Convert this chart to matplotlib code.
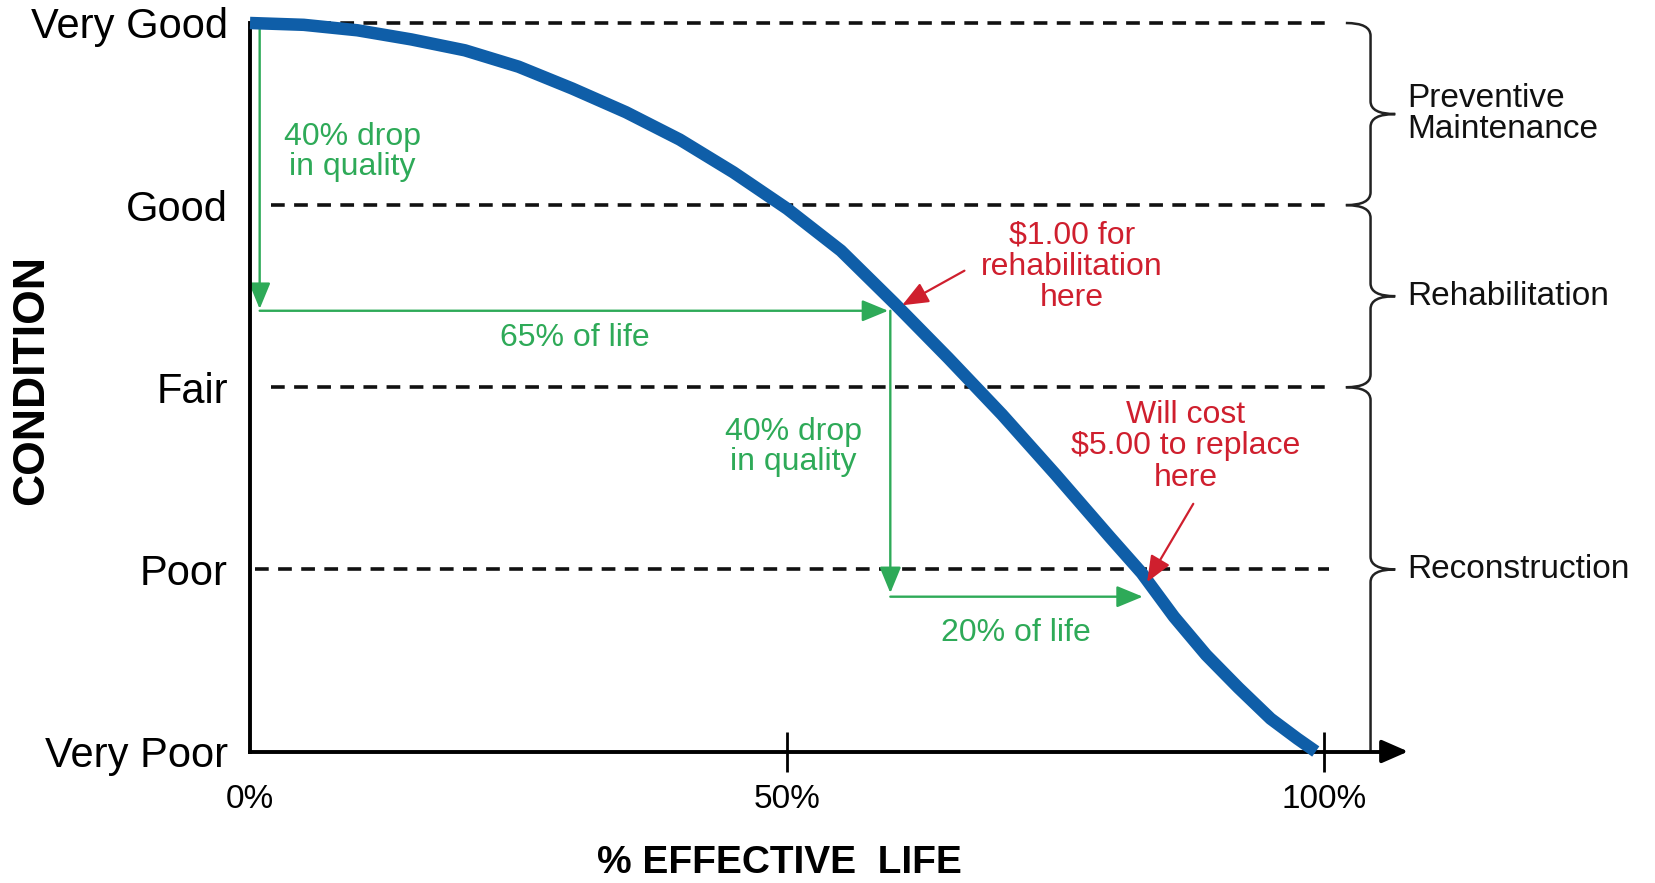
import matplotlib.pyplot as plt
from matplotlib.path import Path
from matplotlib.patches import PathPatch

plt.rcParams['font.family'] = ['Liberation Sans', 'DejaVu Sans']

# condition scale and the deterioration curve
conditions = ['Very Poor', 'Poor', 'Fair', 'Good', 'Very Good']
levels = [0, 1, 2, 3, 4]
life_pct = [0, 5, 10, 15, 20, 25, 30, 35, 40, 45, 50, 55, 60, 65, 70, 75, 80,
            83, 86, 89, 92, 95, 97.5, 99.2]
condition_val = [4.0, 3.99, 3.96, 3.91, 3.85, 3.76, 3.64, 3.51, 3.36, 3.18, 2.98, 2.75,
                 2.46, 2.16, 1.85, 1.52, 1.18, 0.98, 0.74, 0.53, 0.35, 0.18, 0.07, 0.0]
x_ticks = [0, 50, 100]
x_ticklabels = ['0%', '50%', '100%']

# green measuring arrows (x start, y start, x end, y end) and their labels
green_arrows = [(0.9, 4.0, 0.9, 2.43), (0.9, 2.42, 59.4, 2.42),
                (59.6, 2.42, 59.6, 0.87), (59.6, 0.85, 83.1, 0.85)]
green_labels = ['40% drop\nin quality', '65% of life', '40% drop\nin quality', '20% of life']
green_xy = [(9.5, 3.29), (30.2, 2.27), (50.6, 1.67), (71.3, 0.65)]

# red cost notes
red_labels = ['$1.00 for\nrehabilitation\nhere', 'Will cost\n$5.00 to replace\nhere']
red_xy = [(76.5, 2.66), (87.1, 1.675)]
red_arrows = [(66.5, 2.64, 60.7, 2.45), (87.8, 1.36, 83.5, 0.93)]

# treatment brackets on the right: (top, bottom, tip)
bracket_spans = [(4, 3, 3.5), (3, 2, 2.5), (2, 0, 1.0)]
bracket_labels = ['Preventive\nMaintenance', 'Rehabilitation', 'Reconstruction']

BLUE = '#0f5ea8'
GREEN = '#2eaa58'
RED = '#cf1f2e'


def brace(y_top, y_bot, y_tip, x0=104.3, x_hook=102.0, x_tip=106.6, r=0.07, hook_bottom=True):
    verts = [(x_hook, y_top), (x0, y_top), (x0, y_top - r),
             (x0, y_tip + r), (x0, y_tip), (x_tip, y_tip),
             (x0, y_tip), (x0, y_tip - r)]
    codes = [Path.MOVETO, Path.CURVE3, Path.CURVE3, Path.LINETO,
             Path.CURVE3, Path.CURVE3, Path.CURVE3, Path.CURVE3]
    if hook_bottom:
        verts += [(x0, y_bot + r), (x0, y_bot), (x_hook, y_bot)]
        codes += [Path.LINETO, Path.CURVE3, Path.CURVE3]
    else:
        verts += [(x0, y_bot)]
        codes += [Path.LINETO]
    return Path(verts, codes)


fig = plt.figure(figsize=(16.55, 8.83), dpi=100)
ax = fig.add_axes([250 / 1655, 131.5 / 883, 1156 / 1655, 728.5 / 883])
ax.set_xlim(0, 107.6)
ax.set_ylim(0, 4)

for side in ['top', 'right']:
    ax.spines[side].set_visible(False)
ax.spines['left'].set_linewidth(2.8)
ax.spines['bottom'].set_linewidth(2.8)
ax.spines['bottom'].set_bounds(0, 106)
ax.annotate('', xy=(107.8, 0), xytext=(105.5, 0), annotation_clip=False,
            arrowprops=dict(arrowstyle='-|>,head_length=0.8,head_width=0.35', mutation_scale=20,
                            color='black', lw=2.8, shrinkA=0, shrinkB=0))

ax.set_xticks(x_ticks, x_ticklabels)
ax.tick_params(axis='x', direction='inout', length=29, width=2.0, pad=9, labelsize=24)
ax.xaxis.get_major_ticks()[0].tick1line.set_visible(False)
ax.set_yticks(levels, conditions)
ax.tick_params(axis='y', length=0, pad=16, labelsize=30)

ax.set_xlabel('% EFFECTIVE  LIFE', fontsize=28, fontweight='bold')
ax.xaxis.set_label_coords(49.3 / 107.6, -0.153)
ax.xaxis.label.set_verticalalignment('center')
ax.set_ylabel('CONDITION', fontsize=32, fontweight='bold')
ax.yaxis.set_label_coords(-0.1886, 0.51)
ax.yaxis.label.set_verticalalignment('center')

# dashed condition thresholds
for lvl, x_start in zip([1, 2, 3, 4], [0.5, 2.0, 2.0, 2.0]):
    ax.plot([x_start, 100.4], [lvl, lvl], ls=(0, (3.8, 2.6)), lw=2.6,
            color='#111111', zorder=1, clip_on=False)

# green arrows and labels
for x0, y0, x1, y1 in green_arrows:
    ax.annotate('', xy=(x1, y1), xytext=(x0, y0), annotation_clip=False,
                arrowprops=dict(arrowstyle='-|>,head_length=0.8,head_width=0.33', mutation_scale=20,
                                color=GREEN, lw=1.7, shrinkA=0, shrinkB=0), zorder=2)
for txt, (x, y) in zip(green_labels, green_xy):
    ax.text(x, y, txt, color=GREEN, fontsize=23, ha='center', va='center', linespacing=1.0)

# deterioration curve
ax.plot(life_pct, condition_val, color=BLUE, lw=9, solid_capstyle='butt',
        solid_joinstyle='round', zorder=3, clip_on=False)

# red notes
for x0, y0, x1, y1 in red_arrows:
    ax.annotate('', xy=(x1, y1), xytext=(x0, y0), annotation_clip=False,
                arrowprops=dict(arrowstyle='-|>,head_length=0.8,head_width=0.33', mutation_scale=20,
                                color=RED, lw=1.6, shrinkA=0, shrinkB=0), zorder=4)
for txt, (x, y) in zip(red_labels, red_xy):
    ax.text(x, y, txt, color=RED, fontsize=23, ha='center', va='center', linespacing=1.05)

# treatment brackets
for i, (top, bot, tip) in enumerate(bracket_spans):
    path = brace(top, bot, tip, hook_bottom=(i < 2))
    ax.add_patch(PathPatch(path, fill=False, lw=1.8, ec='#222222', clip_on=False))
    ax.text(107.7, tip, bracket_labels[i], fontsize=24, ha='left', va='center',
            linespacing=0.97, color='#111111')

fig.savefig('out.png', dpi=100)
